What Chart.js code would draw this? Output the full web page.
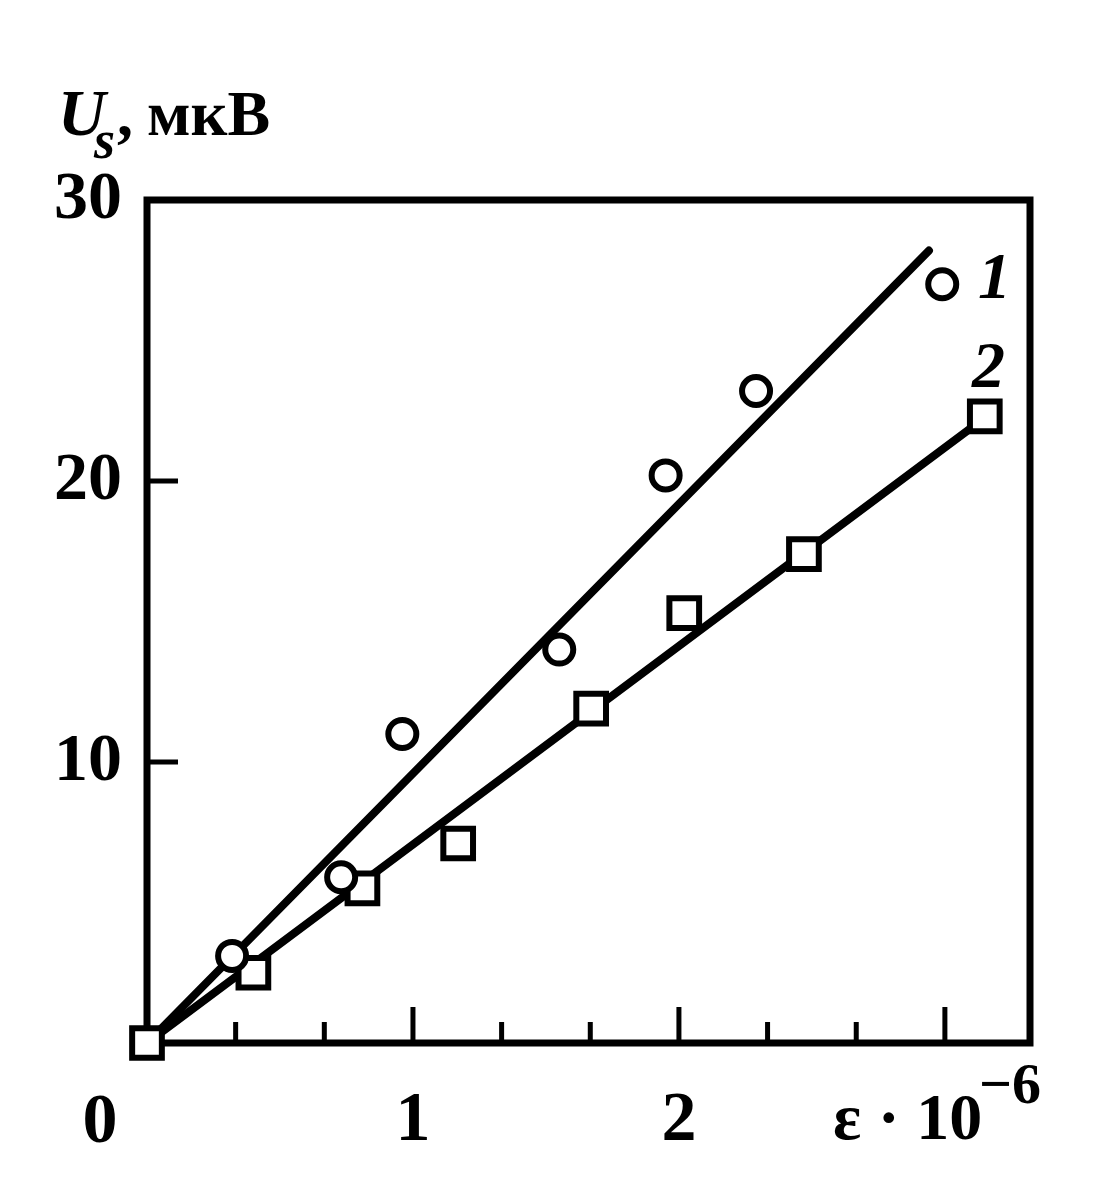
<!DOCTYPE html>
<html>
<head>
<meta charset="utf-8">
<script src="https://cdn.jsdelivr.net/npm/chart.js@4/dist/chart.umd.min.js"></script>
<style>
  html, body { margin: 0; padding: 0; background: #fff; }
  canvas { display: block; }
</style>
</head>
<body>
<canvas id="chart" width="1104" height="1188"></canvas>
<script>
// curve 1 (circles)
const circleX = [0.32, 0.73, 0.96, 1.55, 1.95, 2.29, 2.99];
const circleY = [3.1, 5.9, 11.0, 14.0, 20.2, 23.2, 27.0];
// curve 2 (squares)
const squareX = [0, 0.40, 0.81, 1.17, 1.67, 2.02, 2.47, 3.15];
const squareY = [0, 2.5, 5.5, 7.1, 11.9, 15.3, 17.4, 22.3];
// straight lines drawn through each set
const lineX1 = [0, 2.94];
const lineY1 = [0, 28.2];
const lineX2 = [0, 3.15];
const lineY2 = [0, 22.25];

// tick positions and labels
const xTicks = [0, 0.3333, 0.6667, 1, 1.3333, 1.6667, 2, 2.3333, 2.6667, 3];
const xTickLabels = ['', '', '', '1', '', '', '2', '', '', ''];
const yTicks = [0, 10, 20, 30];
const yTickLabels = ['', '10', '20', '30'];

const serif = "'Liberation Serif', 'Times New Roman', serif";

function points(xs, ys) {
    return xs.map((v, i) => ({x: v, y: ys[i]}));
}

// frame, inward ticks and the text labels
const decor = {
    id: 'decor',
    beforeDatasetsDraw(chart) {
        const {ctx, chartArea: a, scales: {x, y}} = chart;
        ctx.save();
        ctx.strokeStyle = '#000';
        ctx.lineWidth = 7;
        ctx.strokeRect(a.left, a.top, a.right - a.left, a.bottom - a.top);
        ctx.lineWidth = 5;
        ctx.beginPath();
        x.ticks.forEach(t => {
            if (t.value <= 0) return;
            const px = x.getPixelForValue(t.value);
            const len = Number.isInteger(t.value) ? 36 : 21;
            ctx.moveTo(px, a.bottom);
            ctx.lineTo(px, a.bottom - len);
        });
        y.ticks.forEach(t => {
            if (t.value <= 0 || t.value >= 30) return;
            const py = y.getPixelForValue(t.value);
            ctx.moveTo(a.left, py);
            ctx.lineTo(a.left + 31, py);
        });
        ctx.stroke();
        ctx.restore();
    },
    afterDraw(chart) {
        const {ctx, scales: {x}} = chart;
        ctx.save();
        ctx.fillStyle = '#000';
        ctx.textBaseline = 'alphabetic';
        ctx.textAlign = 'left';

        // y axis title
        ctx.font = `italic bold 66px ${serif}`;
        ctx.fillText('U', 58, 135);
        ctx.font = `italic bold 54px ${serif}`;
        ctx.fillText('s', 94, 158);
        ctx.font = `bold 64px ${serif}`;
        ctx.fillText(',', 117, 135);
        ctx.fillText('мкВ', 147, 135);

        // x axis title
        ctx.font = `bold 66px ${serif}`;
        ctx.fillText('ε · 10', 833, 1139);
        ctx.font = `bold 58px ${serif}`;
        ctx.fillText('−6', 979, 1103);

        // shared zero at the corner
        ctx.textAlign = 'center';
        ctx.font = `bold 70px ${serif}`;
        ctx.fillText('0', x.getPixelForValue(0) - 47, 1142);

        // curve numbers
        ctx.textAlign = 'left';
        ctx.font = `italic bold 66px ${serif}`;
        ctx.fillText('1', 978, 298);
        ctx.fillText('2', 972, 387);
        ctx.restore();
    }
};

new Chart(document.getElementById('chart'), {
    type: 'scatter',
    data: {
        datasets: [
            {
                data: points(lineX1, lineY1),
                showLine: true,
                borderColor: '#000',
                borderWidth: 8,
                borderCapStyle: 'round',
                pointRadius: 0,
                order: 2,
                clip: false
            },
            {
                data: points(lineX2, lineY2),
                showLine: true,
                borderColor: '#000',
                borderWidth: 8,
                borderCapStyle: 'round',
                pointRadius: 0,
                order: 2,
                clip: false
            },
            {
                data: points(circleX, circleY),
                pointStyle: 'circle',
                pointRadius: 14,
                borderWidth: 6,
                borderColor: '#000',
                backgroundColor: '#fff',
                order: 1,
                clip: false
            },
            {
                data: points(squareX, squareY),
                pointStyle: 'rect',
                pointRadius: 21,
                borderWidth: 6,
                borderColor: '#000',
                backgroundColor: '#fff',
                order: 1,
                clip: false
            }
        ]
    },
    options: {
        responsive: false,
        animation: false,
        events: [],
        layout: {
            padding: {top: 200, right: 74, bottom: 0, left: 0}
        },
        plugins: {
            legend: {display: false},
            tooltip: {enabled: false}
        },
        scales: {
            x: {
                type: 'linear',
                min: 0,
                max: 3.32,
                afterBuildTicks: scale => { scale.ticks = xTicks.map(v => ({value: v})); },
                afterFit: scale => { scale.height = 145; },
                grid: {display: false, drawTicks: false},
                border: {display: false},
                ticks: {
                    autoSkip: false,
                    maxRotation: 0,
                    padding: 37,
                    color: '#000',
                    font: {family: serif, size: 70, weight: 'bold'},
                    callback: (value, index) => xTickLabels[index]
                }
            },
            y: {
                type: 'linear',
                min: 0,
                max: 30,
                afterBuildTicks: scale => { scale.ticks = yTicks.map(v => ({value: v})); },
                afterFit: scale => { scale.width = 147; },
                grid: {display: false, drawTicks: false},
                border: {display: false},
                ticks: {
                    autoSkip: false,
                    padding: 25,
                    color: '#000',
                    font: {family: serif, size: 68, weight: 'bold'},
                    callback: (value, index) => yTickLabels[index]
                }
            }
        }
    },
    plugins: [decor]
});
</script>
</body>
</html>
